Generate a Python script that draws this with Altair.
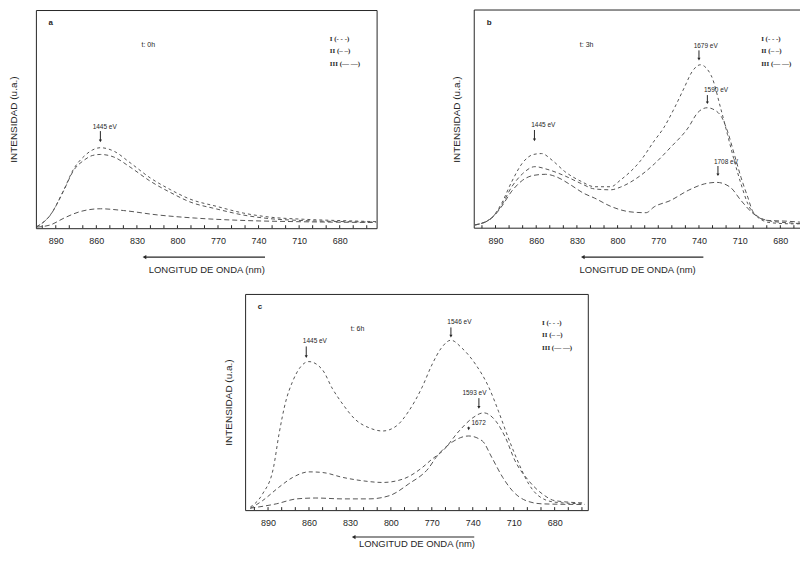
import altair as alt
import pandas as pd

# ---------------- data ----------------
# Panel a  (t: 0h)
a_nm_12 = [904, 894, 884, 877, 869, 863, 857, 847, 835, 820, 805, 791, 771, 751, 732, 707, 675, 653]
a_I = [0.7, 6.1, 17.6, 26.9, 33.0, 35.8, 36.9, 35.3, 30.0, 23.0, 17.6, 13.4, 10.0, 6.9, 5.1, 4.1, 3.4, 3.0]
a_II = [0.7, 6.0, 17.4, 26.3, 31.2, 33.3, 33.8, 32.6, 28.0, 21.5, 16.3, 12.1, 8.8, 6.0, 4.4, 3.5, 3.0, 2.8]
a_nm_3 = [904, 894, 884, 872, 857, 840, 815, 786, 749, 712, 653]
a_III = [0.5, 1.5, 4.6, 7.6, 8.9, 8.1, 6.1, 4.6, 3.5, 3.0, 2.6]

# Panel b  (t: 3h)
b_nm_1 = [905, 893, 886, 878, 870, 862, 856, 848, 839, 827, 817, 805, 798, 783, 773, 766, 758, 751, 745, 739,
          731, 724, 719, 714, 709, 704, 697, 687, 670, 660]
b_I = [1.5, 4.7, 10.8, 21.4, 30.0, 33.8, 34.2, 31.0, 26.0, 21.5, 19.0, 19.0, 22.0, 31.0, 40.0, 46.0, 55.2, 64.2, 71.8, 74.9,
       70.0, 55.0, 43.0, 31.0, 20.3, 11.2, 5.2, 2.5, 2.0, 2.0]
b_nm_2 = [905, 893, 886, 878, 870, 861, 852, 839, 827, 817, 805, 798, 785, 773, 761, 748, 741, 734, 728, 723,
          719, 714, 709, 704, 700, 690, 675, 660]
b_II = [1.5, 4.7, 10.0, 19.0, 25.0, 28.2, 27.0, 24.0, 20.5, 18.0, 17.6, 18.8, 23.3, 29.4, 37.0, 46.0, 52.9, 55.2, 54.0, 50.6,
        44.5, 34.0, 23.3, 14.2, 7.4, 3.6, 2.5, 2.0]
b_nm_3 = [905, 893, 886, 878, 870, 862, 853, 845, 835, 825, 817, 805, 793, 785, 779, 773, 761, 748, 736, 727,
          717, 709, 700, 690, 675, 660]
b_III = [1.5, 4.5, 9.5, 17.0, 22.0, 24.2, 24.7, 23.5, 20.0, 16.0, 13.8, 10.0, 7.7, 7.2, 7.1, 9.8, 12.7, 17.3, 20.3, 21.0,
         18.8, 12.7, 6.7, 3.6, 3.2, 2.5]

# Panel c  (t: 6h)
c_nm_1 = [903, 894, 886, 882, 877, 872, 866, 860, 850, 843, 835, 826, 816, 806, 796, 787, 777, 770, 763, 756,
          748, 738, 728, 721, 714, 706, 699, 692, 680, 658]
c_I = [1.4, 7.5, 19.7, 35.0, 50.3, 59.5, 66.4, 68.7, 64.8, 56.4, 48.8, 41.9, 38.1, 36.6, 38.9, 45.7, 57.0, 67.1, 75.0, 78.6,
       75.0, 67.5, 56.5, 45.5, 33.5, 21.2, 12.1, 6.7, 3.7, 2.9]
c_nm_2 = [903, 894, 882, 872, 860, 850, 835, 821, 806, 791, 777, 770, 762, 750, 740, 732, 723, 716, 709, 699,
          689, 680, 658]
c_II = [0.8, 4.4, 10.6, 15.1, 17.7, 17.4, 15.1, 13.6, 12.8, 14.4, 19.7, 23.5, 27.4, 36.6, 42.7, 45.0, 41.1, 33.5, 22.8, 13.6,
        7.5, 4.4, 3.3]
c_nm_3 = [903, 884, 869, 855, 835, 816, 801, 787, 772, 767, 755, 743, 733, 726, 718, 711, 701, 689, 658]
c_III = [0.9, 2.9, 5.2, 5.6, 5.2, 5.2, 6.7, 12.1, 19.7, 24.3, 31.5, 34.3, 32.0, 24.3, 15.1, 9.0, 4.4, 2.9, 2.6]

# peak annotations: label, text x (nm), text y, arrow x (nm), arrow top, arrow tip
a_labels = ["1445 eV"]
a_text_nm = [862.7]
a_text_y = [46.5]
a_arrow_nm = [857]
a_arrow_top = [44.5]
a_arrow_tip = [40.0]

b_labels = ["1445 eV", "1679 eV", "1590 eV", "1708 eV"]
b_text_nm = [863.7, 743.9, 736.3, 729.0]
b_text_y = [47.4, 83.6, 63.2, 30.5]
b_arrow_nm = [861.3, 740.0, 733.8, 726.0]
b_arrow_top = [45.0, 81.5, 61.0, 28.5]
b_arrow_tip = [40.5, 77.5, 57.5, 24.5]

c_labels = ["1445 eV", "1546 eV", "1593 eV", "1672"]
c_text_nm = [864.5, 758.6, 747.6, 741.0]
c_text_y = [78.0, 87.2, 54.0, 40.4]
c_arrow_nm = [862.0, 756.0, 735.5, 743.0]
c_arrow_top = [75.7, 84.5, 51.8, 38.6]
c_arrow_tip = [71.0, 80.5, 47.5, 37.6]

tick_labels = [890, 860, 830, 800, 770, 740, 710, 680]
minor_ticks = [900, 890, 880, 870, 860, 850, 840, 830, 820, 810, 800, 790, 780, 770, 760, 750, 740, 730, 720,
               710, 700, 690, 680, 670, 660]
series_names = ["I", "II", "III"]
legend_lines = ["I (- - -)", "II (– –)", "III (— —)"]

# ---------------- styling ----------------
FONT = "Liberation Sans"
INK = "#262626"
CURVE = "#555555"


def panel(letter, tlabel, series, ann, width, height, domain, ytp, xtp, arrow_dy,
          open_right=False, leg_x=295):
    H = height
    rows = []
    for name, nms, ys in series:
        for n, v in zip(nms, ys):
            rows.append({"nm": n, "y": v, "serie": name})
    df = pd.DataFrame(rows)

    xs = alt.Scale(domain=domain, nice=False, zero=False)
    ys = alt.Scale(domain=[0, 100], nice=False, zero=False)
    xenc = alt.X("nm:Q", scale=xs, axis=alt.Axis(
        values=tick_labels, format="d", ticks=False, domain=False, grid=False,
        labelFontSize=9, labelPadding=8, labelColor=INK, labelFont=FONT,
        labelFlush=False,
        title="LONGITUD DE ONDA (nm)", titleFont=FONT, titleFontSize=9.5,
        titleFontWeight="normal", titleColor=INK, titlePadding=xtp))
    yenc = alt.Y("y:Q", scale=ys, axis=alt.Axis(
        labels=False, ticks=False, domain=False, grid=False,
        title="INTENSIDAD (u.a.)", titleFont=FONT, titleFontSize=10,
        titleFontWeight="normal", titleColor=INK, titlePadding=ytp))

    lines = alt.Chart(df).mark_line(interpolate="monotone", strokeWidth=1, color=CURVE, clip=True).encode(
        x=xenc, y=yenc,
        strokeDash=alt.StrokeDash("serie:N", scale=alt.Scale(domain=series_names,
                                                            range=[[3, 3], [4, 3], [5, 3]]), legend=None),
    )

    tick_vals = [t for t in minor_ticks if min(domain) < t < max(domain)]
    ticks = alt.Chart(pd.DataFrame({"nm": tick_vals})).mark_rule(color=INK, strokeWidth=1).encode(
        x=xenc, y=alt.value(H), y2=alt.value(H - 3))

    labels, tnm, ty, anm, atop, atip = ann
    tdf = pd.DataFrame({"nm": tnm, "y": ty, "label": labels})
    texts = alt.Chart(tdf).mark_text(align="left", baseline="middle", fontSize=6.5, font=FONT,
                                      color=INK).encode(x=xenc, y=yenc, text="label:N")
    adf = pd.DataFrame({"nm": anm, "y": atop, "y2": atip})
    arrows = alt.Chart(adf).mark_rule(color=INK, strokeWidth=1).encode(x=xenc, y=yenc, y2="y2:Q")
    heads = alt.Chart(pd.DataFrame({"nm": anm, "y": atip})).mark_point(
        shape="triangle-down", filled=True, size=10, color=INK, opacity=1).encode(x=xenc, y=yenc)

    one = pd.DataFrame({"k": [0]})
    letter_t = alt.Chart(one).mark_text(text=letter, fontSize=8, fontWeight="bold", font=FONT,
                                        color=INK).encode(x=alt.value(15), y=alt.value(13))
    time_t = alt.Chart(one).mark_text(text=tlabel, fontSize=7, font=FONT, color=INK,
                                      align="left").encode(x=alt.value(106), y=alt.value(35))
    legs = [alt.Chart(one).mark_text(text=t, fontSize=7, font="Liberation Serif", fontWeight="bold",
                                     color=INK, align="left").encode(x=alt.value(leg_x), y=alt.value(yy))
            for t, yy in zip(legend_lines, [29, 41, 54])]

    arrow_line = alt.Chart(one).mark_rule(color=INK, strokeWidth=1.2).encode(
        x=alt.value(110), x2=alt.value(230), y=alt.value(H + arrow_dy))
    arrow_head = alt.Chart(one).mark_point(shape="triangle-left", filled=True, size=18, color=INK,
                                           opacity=1).encode(x=alt.value(109), y=alt.value(H + arrow_dy))

    layers = [lines, ticks, arrows, heads, texts, letter_t, time_t] + legs + [arrow_line, arrow_head]
    if open_right:
        layers += [
            alt.Chart(one).mark_rule(color=INK, strokeWidth=1).encode(x=alt.value(0), x2=alt.value(width), y=alt.value(0)),
            alt.Chart(one).mark_rule(color=INK, strokeWidth=1).encode(x=alt.value(0), x2=alt.value(width), y=alt.value(H)),
            alt.Chart(one).mark_rule(color=INK, strokeWidth=1).encode(x=alt.value(0), y=alt.value(0), y2=alt.value(H)),
        ]
    ch = alt.layer(*layers).properties(width=width, height=H)
    if open_right:
        ch = ch.properties(view=alt.ViewBackground(stroke="transparent"))
    return ch


pa = panel("a", "t: 0h",
           [("I", a_nm_12, a_I), ("II", a_nm_12, a_II), ("III", a_nm_3, a_III)],
           (a_labels, a_text_nm, a_text_y, a_arrow_nm, a_arrow_top, a_arrow_tip),
           342, 219, [904.7, 652.7], 17, 19, 29)
pb = panel("b", "t: 3h",
           [("I", b_nm_1, b_I), ("II", b_nm_2, b_II), ("III", b_nm_3, b_III)],
           (b_labels, b_text_nm, b_text_y, b_arrow_nm, b_arrow_top, b_arrow_tip),
           327, 219, [905.7, 665.5], 13, 19, 29, open_right=True, leg_x=288)
pc = panel("c", "t: 6h",
           [("I", c_nm_1, c_I), ("II", c_nm_2, c_II), ("III", c_nm_3, c_III)],
           (c_labels, c_text_nm, c_text_y, c_arrow_nm, c_arrow_top, c_arrow_tip),
           344, 217, [906.8, 655.7], 12, 12, 27, leg_x=298)

spacer = alt.Chart(pd.DataFrame({"k": [0]})).mark_rule(opacity=0).encode(
    x=alt.value(0), y=alt.value(0)).properties(width=186, height=1,
                                               view=alt.ViewBackground(stroke="transparent"))

top = alt.hconcat(pa, pb, spacing=73)
bottom = alt.hconcat(spacer, pc, spacing=0)
chart = alt.vconcat(top, bottom, spacing=19).properties(
    padding=0,
    background="white",
).configure(font=FONT).configure_view(stroke=INK, strokeWidth=1)

chart.save("out.html", embed_options={"renderer": "svg", "actions": False})
